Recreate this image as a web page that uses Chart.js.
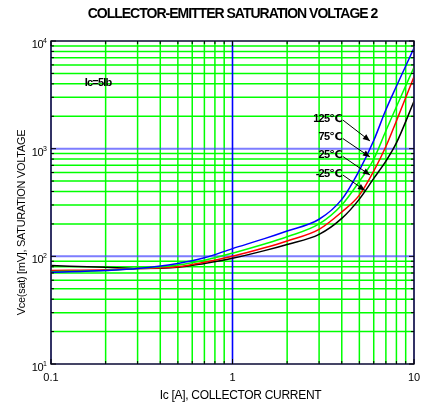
<!DOCTYPE html>
<html><head><meta charset="utf-8">
<script src="https://cdn.jsdelivr.net/npm/chart.js@4.4.1/dist/chart.umd.min.js"></script>
<style>html,body{margin:0;padding:0;background:#fff;overflow:hidden}#wrap{width:427px;height:413px}</style>
</head><body><div id="wrap"><canvas id="c" width="427" height="413"></canvas></div>
<script>
// ---- data ----
const currents = [0.1, 0.2, 0.3, 0.5, 0.7, 1, 1.5, 2, 3, 4, 5, 6, 7, 8, 10];
const v125 = [71, 74, 77, 86, 97, 118, 146, 172, 221, 338, 630, 1190, 2300, 3800, 8600];
const v75  = [72, 74, 77, 83, 92, 107, 130, 152, 200, 300, 497, 800, 1466, 2450, 5700];
const v25  = [74, 75, 77, 80, 88, 100, 120, 139, 178, 258, 370, 620, 1047, 1810, 4660];
const vm25 = [82, 79, 77, 79, 86, 96, 113, 129, 160, 225, 340, 529, 765, 1130, 2750];
const seriesNames = ['125℃', '75℃', '25℃', '-25℃'];
const xGridVals = [0.1,0.2,0.3,0.4,0.5,0.6,0.7,0.8,0.9,1,2,3,4,5,6,7,8,9,10];
const yGridVals = [10,20,30,40,50,60,70,80,90,100,200,300,400,500,600,700,800,900,1000,2000,3000,4000,5000,6000,7000,8000,9000,10000];
const xMajorVals = [0.1, 1, 10];
const xTickLabels = ['0.1', '1', '10'];
const yMajorVals = [10, 100, 1000, 10000];
const yTickExp = ['1', '2', '3', '4'];
// annotation anchors (data coords)
const labelX = 4.0;
const labelY = [1887, 1271, 865, 582];
const arrowTipX = [5.72, 5.72, 5.72, 5.37];
const arrowTipY = [1179, 838, 570, 409];
const condText = 'Ic=5Ib';
const condX = 0.1816, condY = 4074;
const titleText = 'COLLECTOR-EMITTER SATURATION VOLTAGE 2';
const xTitle = 'Ic [A], COLLECTOR CURRENT';
const yTitle = 'Vce(sat) [mV], SATURATION VOLTAGE';

const colors = ['#0000ff', '#00ff00', '#ff0000', '#000000'];
const allSeries = [v125, v75, v25, vm25];

const isMajor = v => Math.abs(Math.log10(v) - Math.round(Math.log10(v))) < 1e-6;

const gridPlugin = {
  id: 'gridPlugin',
  beforeDatasetsDraw(chart) {
    const {ctx, chartArea: a, scales: {x, y}} = chart;
    ctx.save();
    ctx.lineWidth = 1.5;
    ctx.strokeStyle = '#00ff00';
    ctx.beginPath();
    xGridVals.filter(v => !isMajor(v)).forEach(v => {
      const px = x.getPixelForValue(v);
      ctx.moveTo(px, a.top); ctx.lineTo(px, a.bottom);
    });
    yGridVals.filter(v => !isMajor(v)).forEach(v => {
      const py = y.getPixelForValue(v);
      ctx.moveTo(a.left, py); ctx.lineTo(a.right, py);
    });
    ctx.stroke();
    ctx.strokeStyle = 'rgba(70,70,255,0.7)';
    ctx.lineWidth = 2;
    ctx.beginPath();
    yGridVals.filter(isMajor).forEach(v => {
      const py = y.getPixelForValue(v);
      ctx.moveTo(a.left, py); ctx.lineTo(a.right, py);
    });
    ctx.stroke();
    ctx.strokeStyle = '#0000ff';
    ctx.lineWidth = 1.6;
    ctx.beginPath();
    xGridVals.filter(isMajor).forEach(v => {
      const px = x.getPixelForValue(v);
      ctx.moveTo(px, a.top); ctx.lineTo(px, a.bottom);
    });
    ctx.stroke();
    ctx.restore();
  }
};

const decor = {
  id: 'decor',
  afterDraw(chart) {
    const {ctx, chartArea: a, scales: {x, y}} = chart;
    ctx.save();
    ctx.strokeStyle = '#333';
    ctx.lineWidth = 1.5;
    ctx.strokeRect(a.left, a.top, a.right - a.left, a.bottom - a.top);
    ctx.lineWidth = 1;
    ctx.strokeStyle = '#000';
    ctx.beginPath();
    xGridVals.forEach(v => {
      const px = x.getPixelForValue(v);
      const L = isMajor(v) ? 5 : 3;
      ctx.moveTo(px, a.bottom); ctx.lineTo(px, a.bottom - L);
      ctx.moveTo(px, a.top); ctx.lineTo(px, a.top + L);
    });
    yGridVals.forEach(v => {
      const py = y.getPixelForValue(v);
      const L = isMajor(v) ? 5 : 3;
      ctx.moveTo(a.left, py); ctx.lineTo(a.left + L, py);
      ctx.moveTo(a.right, py); ctx.lineTo(a.right - L, py);
    });
    ctx.stroke();

    ctx.fillStyle = '#000';
    ctx.textBaseline = 'middle';
    ctx.font = '11px "Liberation Sans", Arial, sans-serif';
    ctx.textAlign = 'center';
    xMajorVals.forEach((v, i) => {
      ctx.fillText(xTickLabels[i], x.getPixelForValue(v), a.bottom + 14);
    });
    yMajorVals.forEach((v, i) => {
      const py = y.getPixelForValue(v);
      ctx.font = '11px "Liberation Sans", Arial, sans-serif';
      ctx.textAlign = 'right';
      ctx.letterSpacing = '-0.5px';
      ctx.fillText('10', a.left - 8, py + 4);
      ctx.letterSpacing = '0px';
      ctx.font = '7px "Liberation Sans", Arial, sans-serif';
      ctx.textAlign = 'left';
      ctx.fillText(yTickExp[i], a.left - 8, py);
    });
    ctx.font = 'bold 14px "Liberation Sans", Arial, sans-serif';
    ctx.letterSpacing = '-1px';
    ctx.textAlign = 'center';
    ctx.fillText(titleText, (a.left + a.right) / 2, 14);
    ctx.font = '12px "Liberation Sans", Arial, sans-serif';
    ctx.letterSpacing = '-0.3px';
    ctx.fillText(xTitle, (a.left + a.right) / 2 + 8, a.bottom + 32);
    ctx.save();
    ctx.translate(22, (a.top + a.bottom) / 2 + 20);
    ctx.rotate(-Math.PI / 2);
    ctx.font = '11px "Liberation Sans", Arial, sans-serif';
    ctx.letterSpacing = '-0.3px';
    ctx.fillText(yTitle, 0, 0);
    ctx.restore();
    ctx.font = 'bold 11px "Liberation Sans", Arial, sans-serif';
    ctx.letterSpacing = '-0.8px';
    ctx.fillText(condText, x.getPixelForValue(condX), y.getPixelForValue(condY));
    ctx.textAlign = 'right';
    seriesNames.forEach((t, i) => {
      const lx = x.getPixelForValue(labelX), ly = y.getPixelForValue(labelY[i]);
      ctx.font = 'bold 11px "Liberation Sans", "DejaVu Sans", Arial, sans-serif';
      ctx.letterSpacing = '-0.8px';
      ctx.fillText(t, lx, ly);
      const sx = lx + 1, sy = ly + 1;
      const tx = x.getPixelForValue(arrowTipX[i]), ty = y.getPixelForValue(arrowTipY[i]);
      ctx.strokeStyle = '#000';
      ctx.lineWidth = 1;
      ctx.beginPath(); ctx.moveTo(sx, sy); ctx.lineTo(tx, ty); ctx.stroke();
      const ang = Math.atan2(ty - sy, tx - sx);
      const hl = 7, hw = 3;
      ctx.beginPath();
      ctx.moveTo(tx, ty);
      ctx.lineTo(tx - hl * Math.cos(ang) + hw * Math.sin(ang), ty - hl * Math.sin(ang) - hw * Math.cos(ang));
      ctx.lineTo(tx - hl * Math.cos(ang) - hw * Math.sin(ang), ty - hl * Math.sin(ang) + hw * Math.cos(ang));
      ctx.closePath(); ctx.fill();
    });
    ctx.restore();
  }
};

new Chart(document.getElementById('c').getContext('2d'), {
  type: 'line',
  data: {
    datasets: allSeries.map((s, k) => ({
      label: seriesNames[k],
      data: currents.map((c, i) => ({x: c, y: s[i]})),
      borderColor: colors[k],
      borderWidth: 1.5,
      pointRadius: 0,
      fill: false,
      cubicInterpolationMode: 'monotone'
    }))
  },
  options: {
    responsive: false,
    animation: false,
    devicePixelRatio: 1,
    layout: {padding: {left: 51, right: 13, top: 41, bottom: 49}},
    plugins: {legend: {display: false}, tooltip: {enabled: false}, title: {display: false}},
    scales: {
      x: {
        type: 'logarithmic', min: 0.1, max: 10,
        afterFit: s => { s.height = 0; },
        ticks: {display: false},
        border: {display: false},
        grid: {display: false}
      },
      y: {
        type: 'logarithmic', min: 10, max: 10000,
        afterFit: s => { s.width = 0; },
        ticks: {display: false},
        border: {display: false},
        grid: {display: false}
      }
    }
  },
  plugins: [gridPlugin, decor]
});
</script>
</body></html>
